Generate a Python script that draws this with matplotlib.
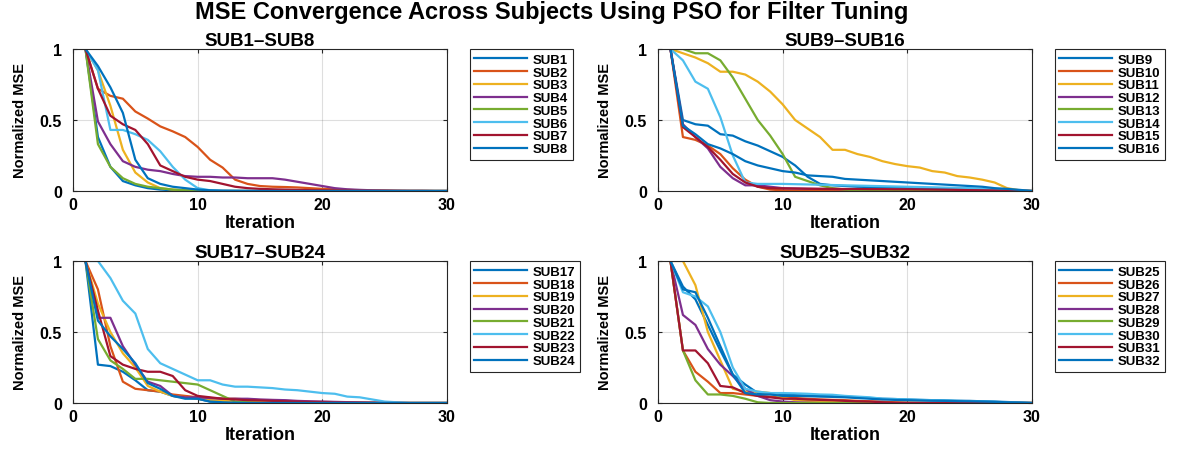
import matplotlib
matplotlib.use("Agg")
import matplotlib.pyplot as plt

# iteration axis shared by all subjects
iterations = list(range(1, 31))

# normalized MSE per subject
sub1 = [1.00, 0.38, 0.17, 0.07, 0.04, 0.02, 0.010, 0.005, 0.002, 0.001,
        0, 0, 0, 0, 0, 0, 0, 0, 0, 0,
        0, 0, 0, 0, 0, 0, 0, 0, 0, 0]
sub2 = [1.00, 0.72, 0.67, 0.65, 0.56, 0.51, 0.455, 0.42, 0.38, 0.31,
        0.22, 0.165, 0.08, 0.05, 0.035, 0.03, 0.028, 0.025, 0.02, 0.015,
        0.012, 0.008, 0.005, 0.004, 0.003, 0.002, 0.001, 0.001, 0, 0]
sub3 = [1.00, 0.85, 0.60, 0.29, 0.13, 0.06, 0.02, 0.01, 0.005, 0.002,
        0, 0, 0, 0, 0, 0, 0, 0, 0, 0,
        0, 0, 0, 0, 0, 0, 0, 0, 0, 0]
sub4 = [1.00, 0.49, 0.33, 0.21, 0.17, 0.15, 0.14, 0.12, 0.105, 0.10,
        0.10, 0.095, 0.095, 0.09, 0.09, 0.09, 0.08, 0.065, 0.05, 0.035,
        0.02, 0.012, 0.008, 0.005, 0.003, 0.002, 0.001, 0.001, 0, 0]
sub5 = [1.00, 0.33, 0.17, 0.09, 0.05, 0.03, 0.02, 0.01, 0.005, 0.002,
        0, 0, 0, 0, 0, 0, 0, 0, 0, 0,
        0, 0, 0, 0, 0, 0, 0, 0, 0, 0]
sub6 = [1.00, 0.85, 0.43, 0.43, 0.40, 0.36, 0.28, 0.17, 0.08, 0.02,
        0.005, 0, 0, 0, 0, 0, 0, 0, 0, 0,
        0, 0, 0, 0, 0, 0, 0, 0, 0, 0]
sub7 = [1.00, 0.72, 0.53, 0.47, 0.43, 0.33, 0.18, 0.14, 0.10, 0.08,
        0.07, 0.05, 0.03, 0.02, 0.015, 0.012, 0.01, 0.008, 0.006, 0.005,
        0.004, 0.003, 0.002, 0.001, 0.001, 0, 0, 0, 0, 0]
sub8 = [1.00, 0.88, 0.73, 0.55, 0.22, 0.09, 0.05, 0.03, 0.02, 0.01,
        0.005, 0.003, 0.002, 0.001, 0, 0, 0, 0, 0, 0,
        0, 0, 0, 0, 0, 0, 0, 0, 0, 0]

sub9 = [1.00, 0.50, 0.47, 0.46, 0.40, 0.39, 0.35, 0.32, 0.28, 0.24,
        0.18, 0.10, 0.05, 0.04, 0.035, 0.03, 0.028, 0.026, 0.024, 0.022,
        0.02, 0.018, 0.016, 0.014, 0.012, 0.01, 0.008, 0.005, 0.003, 0]
sub10 = [1.00, 0.38, 0.36, 0.32, 0.26, 0.16, 0.08, 0.03, 0.01, 0.005,
         0.003, 0.002, 0.001, 0, 0, 0, 0, 0, 0, 0,
         0, 0, 0, 0, 0, 0, 0, 0, 0, 0]
sub11 = [1.00, 0.97, 0.94, 0.90, 0.84, 0.84, 0.82, 0.77, 0.70, 0.61,
         0.50, 0.44, 0.38, 0.29, 0.29, 0.26, 0.24, 0.21, 0.19, 0.175,
         0.165, 0.14, 0.13, 0.105, 0.095, 0.08, 0.06, 0.02, 0.005, 0]
sub12 = [1.00, 0.47, 0.38, 0.30, 0.17, 0.09, 0.04, 0.04, 0.03, 0.02,
         0.018, 0.016, 0.015, 0.014, 0.013, 0.012, 0.011, 0.01, 0.01, 0.009,
         0.008, 0.007, 0.006, 0.005, 0.004, 0.003, 0.002, 0.001, 0, 0]
sub13 = [1.00, 1.00, 0.97, 0.97, 0.92, 0.80, 0.65, 0.50, 0.39, 0.26,
         0.10, 0.07, 0.04, 0.02, 0.01, 0.005, 0.003, 0.002, 0.001, 0,
         0, 0, 0, 0, 0, 0, 0, 0, 0, 0]
sub14 = [1.00, 0.92, 0.77, 0.72, 0.52, 0.25, 0.06, 0.05, 0.05, 0.05,
         0.048, 0.046, 0.044, 0.042, 0.04, 0.038, 0.036, 0.034, 0.032, 0.03,
         0.028, 0.026, 0.024, 0.022, 0.02, 0.016, 0.012, 0.008, 0.004, 0]
sub15 = [1.00, 0.45, 0.38, 0.31, 0.22, 0.12, 0.06, 0.03, 0.02, 0.018,
         0.017, 0.016, 0.015, 0.015, 0.014, 0.014, 0.013, 0.013, 0.012, 0.012,
         0.011, 0.01, 0.009, 0.008, 0.006, 0.005, 0.004, 0.002, 0.001, 0]
sub16 = [1.00, 0.46, 0.40, 0.33, 0.30, 0.26, 0.21, 0.18, 0.16, 0.14,
         0.13, 0.11, 0.105, 0.10, 0.085, 0.08, 0.075, 0.07, 0.065, 0.06,
         0.055, 0.05, 0.045, 0.04, 0.035, 0.03, 0.02, 0.015, 0.008, 0]

sub17 = [1.00, 0.27, 0.26, 0.22, 0.16, 0.09, 0.08, 0.05, 0.04, 0.03,
         0.01, 0.005, 0.002, 0, 0, 0, 0, 0, 0, 0,
         0, 0, 0, 0, 0, 0, 0, 0, 0, 0]
sub18 = [1.00, 0.80, 0.40, 0.15, 0.10, 0.09, 0.08, 0.06, 0.05, 0.04,
         0.035, 0.03, 0.03, 0.025, 0.02, 0.018, 0.015, 0.012, 0.01, 0.008,
         0.006, 0.005, 0.004, 0.003, 0.002, 0.001, 0, 0, 0, 0]
sub19 = [1.00, 0.70, 0.50, 0.35, 0.25, 0.12, 0.08, 0.05, 0.04, 0.03,
         0.02, 0.015, 0.01, 0.008, 0.006, 0.004, 0.002, 0.001, 0, 0,
         0, 0, 0, 0, 0, 0, 0, 0, 0, 0]
sub20 = [1.00, 0.60, 0.60, 0.40, 0.27, 0.15, 0.12, 0.05, 0.04, 0.04,
         0.035, 0.03, 0.03, 0.03, 0.025, 0.022, 0.02, 0.015, 0.012, 0.01,
         0.008, 0.006, 0.004, 0.003, 0.002, 0.001, 0, 0, 0, 0]
sub21 = [1.00, 0.45, 0.30, 0.24, 0.17, 0.17, 0.16, 0.15, 0.14, 0.13,
         0.09, 0.05, 0.01, 0.005, 0, 0, 0, 0, 0, 0,
         0, 0, 0, 0, 0, 0, 0, 0, 0, 0]
sub22 = [1.00, 1.00, 0.88, 0.72, 0.63, 0.38, 0.28, 0.24, 0.20, 0.16,
         0.16, 0.13, 0.115, 0.115, 0.11, 0.105, 0.095, 0.09, 0.08, 0.07,
         0.065, 0.045, 0.04, 0.025, 0.01, 0.005, 0, 0, 0, 0]
sub23 = [1.00, 0.65, 0.33, 0.27, 0.24, 0.22, 0.22, 0.19, 0.09, 0.05,
         0.04, 0.03, 0.025, 0.02, 0.018, 0.015, 0.012, 0.01, 0.007, 0.005,
         0.003, 0.002, 0.001, 0, 0, 0, 0, 0, 0, 0]
sub24 = [1.00, 0.58, 0.47, 0.38, 0.28, 0.14, 0.10, 0.05, 0.03, 0.03,
         0.01, 0.005, 0.002, 0, 0, 0, 0, 0, 0, 0,
         0, 0, 0, 0, 0, 0, 0, 0, 0, 0]

sub25 = [1.00, 0.82, 0.73, 0.55, 0.37, 0.20, 0.13, 0.07, 0.07, 0.06,
         0.055, 0.053, 0.05, 0.05, 0.045, 0.04, 0.035, 0.03, 0.028, 0.025,
         0.022, 0.02, 0.018, 0.016, 0.015, 0.012, 0.01, 0.007, 0.004, 0]
sub26 = [1.00, 0.37, 0.22, 0.15, 0.07, 0.07, 0.06, 0.05, 0.045, 0.04,
         0.035, 0.03, 0.025, 0.022, 0.02, 0.015, 0.012, 0.01, 0.005, 0.003,
         0.002, 0.001, 0, 0, 0, 0, 0, 0, 0, 0]
sub27 = [1.00, 1.00, 0.83, 0.50, 0.30, 0.10, 0.08, 0.08, 0.07, 0.04,
         0.02, 0.015, 0.01, 0.008, 0.006, 0.004, 0.002, 0.001, 0, 0,
         0, 0, 0, 0, 0, 0, 0, 0, 0, 0]
sub28 = [1.00, 0.62, 0.55, 0.38, 0.27, 0.19, 0.10, 0.05, 0.02, 0.01,
         0.005, 0.002, 0, 0, 0, 0, 0, 0, 0, 0,
         0, 0, 0, 0, 0, 0, 0, 0, 0, 0]
sub29 = [1.00, 0.37, 0.16, 0.06, 0.06, 0.05, 0.03, 0.005, 0, 0,
         0, 0, 0, 0, 0, 0, 0, 0, 0, 0,
         0, 0, 0, 0, 0, 0, 0, 0, 0, 0]
sub30 = [1.00, 0.78, 0.75, 0.68, 0.50, 0.25, 0.10, 0.08, 0.07, 0.07,
         0.068, 0.065, 0.06, 0.058, 0.05, 0.045, 0.04, 0.03, 0.028, 0.025,
         0.022, 0.02, 0.018, 0.015, 0.012, 0.01, 0.007, 0.005, 0.003, 0]
sub31 = [1.00, 0.37, 0.37, 0.28, 0.12, 0.11, 0.07, 0.05, 0.04, 0.03,
         0.03, 0.025, 0.022, 0.02, 0.015, 0.012, 0.01, 0.005, 0.002, 0,
         0, 0, 0, 0, 0, 0, 0, 0, 0, 0]
sub32 = [1.00, 0.80, 0.78, 0.60, 0.40, 0.20, 0.07, 0.06, 0.06, 0.05,
         0.05, 0.048, 0.045, 0.043, 0.04, 0.035, 0.03, 0.025, 0.022, 0.02,
         0.018, 0.016, 0.015, 0.013, 0.012, 0.01, 0.008, 0.005, 0.003, 0]

groups = [
    ("SUB1\u2013SUB8", [sub1, sub2, sub3, sub4, sub5, sub6, sub7, sub8], 1),
    ("SUB9\u2013SUB16", [sub9, sub10, sub11, sub12, sub13, sub14, sub15, sub16], 9),
    ("SUB17\u2013SUB24", [sub17, sub18, sub19, sub20, sub21, sub22, sub23, sub24], 17),
    ("SUB25\u2013SUB32", [sub25, sub26, sub27, sub28, sub29, sub30, sub31, sub32], 25),
]

# MATLAB default line order (8th wraps back to blue)
colors = ["#0072BD", "#D95319", "#EDB120", "#7E2F8E",
          "#77AC30", "#4DBEEE", "#A2142F", "#0072BD"]

plt.rcParams["font.family"] = ["Liberation Sans", "DejaVu Sans"]
plt.rcParams["font.weight"] = "bold"

W, H = 1181, 452
fig = plt.figure(figsize=(W / 100, H / 100), dpi=100)

# axes boxes in pixels: (left, top)
boxes = [(73, 50), (658, 50), (73, 262), (658, 262)]
ax_w, ax_h = 374, 142

for (title, series, start), (left, top) in zip(groups, boxes):
    ax = fig.add_axes([left / W, 1 - (top + ax_h) / H, ax_w / W, ax_h / H])
    for i, vals in enumerate(series):
        ax.plot(iterations, vals, color=colors[i], lw=1.6,
                label="SUB%d" % (start + i))
    ax.set_xlim(0, 30)
    ax.set_ylim(0, 1)
    ax.set_xticks([0, 10, 20, 30])
    ax.set_yticks([0, 0.5, 1])
    ax.set_yticklabels(["0", "0.5", "1"])
    ax.grid(True, color="#262626", alpha=0.15, lw=0.8)
    ax.tick_params(direction="in", length=3, labelsize=11.5, color="#262626",
                   top=True, right=True)
    ax.tick_params(axis="y", pad=8)
    ax.tick_params(axis="x", pad=4)
    for sp in ax.spines.values():
        sp.set_color("#262626")
        sp.set_linewidth(0.8)
    ax.set_title(title, fontsize=13.5, fontweight="bold", pad=3)
    ax.set_xlabel("Iteration", fontsize=13, fontweight="bold", labelpad=2)
    ax.set_ylabel("Normalized MSE", fontsize=10.5, fontweight="bold", labelpad=9)
    leg = ax.legend(loc="upper left", bbox_to_anchor=(1.061, 1.0),
                    borderaxespad=0, handlelength=4.0,
                    handletextpad=0.45, labelspacing=0.04, borderpad=0.35,
                    fancybox=False, framealpha=1, edgecolor="#262626",
                    prop={"weight": "bold", "size": 9.5})
    leg.get_frame().set_linewidth(0.8)

fig.text(552 / W, 1 - 12 / H, "MSE Convergence Across Subjects Using PSO for Filter Tuning",
         ha="center", va="center", fontsize=17, fontweight="bold")

fig.savefig("out.png", dpi=100)
